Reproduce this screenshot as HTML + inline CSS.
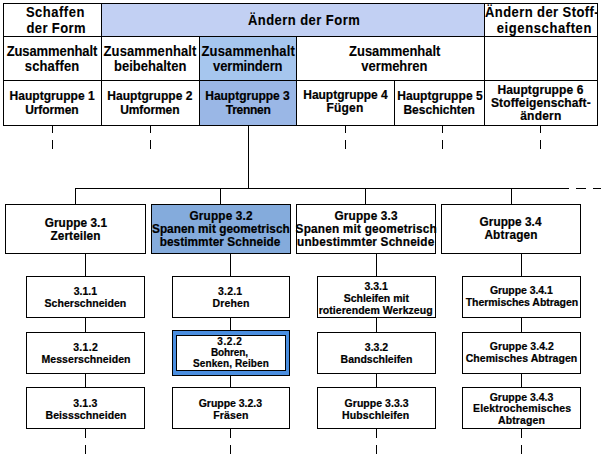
<!DOCTYPE html>
<html><head><meta charset="utf-8"><style>
html,body{margin:0;padding:0;background:#fff;width:601px;height:458px;overflow:hidden}
body{position:relative;font-family:"Liberation Sans",sans-serif;font-weight:bold;color:#000}
body>div{position:absolute}
.t{white-space:nowrap;}
</style></head><body>
<div style="left:102px;top:4px;width:382px;height:32px;background:#c2d0f3"></div>
<div style="left:200px;top:37px;width:96px;height:43px;background:#a6c6ee"></div>
<div style="left:200px;top:81px;width:96px;height:44px;background:#9ab7e6"></div>
<div style="left:3px;top:3px;width:595px;height:1px;background:#000"></div>
<div style="left:3px;top:36px;width:595px;height:1px;background:#000"></div>
<div style="left:3px;top:80px;width:595px;height:1px;background:#000"></div>
<div style="left:3px;top:125px;width:595px;height:1px;background:#000"></div>
<div style="left:3px;top:3px;width:1px;height:123px;background:#000"></div>
<div style="left:101px;top:3px;width:1px;height:123px;background:#000"></div>
<div style="left:484px;top:3px;width:1px;height:123px;background:#000"></div>
<div style="left:597px;top:3px;width:1px;height:123px;background:#000"></div>
<div style="left:199px;top:36px;width:1px;height:90px;background:#000"></div>
<div style="left:296px;top:36px;width:1px;height:90px;background:#000"></div>
<div style="left:394px;top:80px;width:1px;height:46px;background:#000"></div>
<div style="left:52px;top:126px;width:1px;height:7px;background:#000"></div>
<div style="left:52px;top:140px;width:1px;height:9px;background:#000"></div>
<div style="left:150px;top:126px;width:1px;height:7px;background:#000"></div>
<div style="left:150px;top:140px;width:1px;height:9px;background:#000"></div>
<div style="left:345px;top:126px;width:1px;height:7px;background:#000"></div>
<div style="left:345px;top:140px;width:1px;height:9px;background:#000"></div>
<div style="left:442px;top:126px;width:1px;height:7px;background:#000"></div>
<div style="left:442px;top:140px;width:1px;height:9px;background:#000"></div>
<div style="left:540px;top:126px;width:1px;height:7px;background:#000"></div>
<div style="left:540px;top:140px;width:1px;height:9px;background:#000"></div>
<div style="left:248px;top:125px;width:1px;height:64px;background:#000"></div>
<div style="left:75px;top:188px;width:494px;height:1px;background:#000"></div>
<div style="left:576px;top:188px;width:10px;height:1px;background:#000"></div>
<div style="left:593px;top:188px;width:8px;height:1px;background:#000"></div>
<div style="left:75px;top:188px;width:1px;height:17px;background:#000"></div>
<div style="left:220px;top:188px;width:1px;height:17px;background:#000"></div>
<div style="left:365px;top:188px;width:1px;height:17px;background:#000"></div>
<div style="left:511px;top:188px;width:1px;height:17px;background:#000"></div>
<div style="left:5px;top:204px;width:141px;height:1px;background:#000"></div>
<div style="left:5px;top:253px;width:141px;height:1px;background:#000"></div>
<div style="left:5px;top:204px;width:1px;height:50px;background:#000"></div>
<div style="left:145px;top:204px;width:1px;height:50px;background:#000"></div>
<div style="left:151px;top:204px;width:140px;height:50px;background:#84abdc"></div>
<div style="left:151px;top:204px;width:140px;height:1px;background:#000"></div>
<div style="left:151px;top:253px;width:140px;height:1px;background:#000"></div>
<div style="left:151px;top:204px;width:1px;height:50px;background:#000"></div>
<div style="left:290px;top:204px;width:1px;height:50px;background:#000"></div>
<div style="left:296px;top:204px;width:140px;height:1px;background:#000"></div>
<div style="left:296px;top:253px;width:140px;height:1px;background:#000"></div>
<div style="left:296px;top:204px;width:1px;height:50px;background:#000"></div>
<div style="left:435px;top:204px;width:1px;height:50px;background:#000"></div>
<div style="left:441px;top:204px;width:140px;height:1px;background:#000"></div>
<div style="left:441px;top:253px;width:140px;height:1px;background:#000"></div>
<div style="left:441px;top:204px;width:1px;height:50px;background:#000"></div>
<div style="left:580px;top:204px;width:1px;height:50px;background:#000"></div>
<div style="left:85px;top:253px;width:1px;height:24px;background:#000"></div>
<div style="left:230px;top:253px;width:1px;height:24px;background:#000"></div>
<div style="left:376px;top:253px;width:1px;height:24px;background:#000"></div>
<div style="left:521px;top:253px;width:1px;height:24px;background:#000"></div>
<div style="left:26px;top:276px;width:119px;height:1px;background:#000"></div>
<div style="left:26px;top:317px;width:119px;height:1px;background:#000"></div>
<div style="left:26px;top:276px;width:1px;height:42px;background:#000"></div>
<div style="left:144px;top:276px;width:1px;height:42px;background:#000"></div>
<div style="left:26px;top:332px;width:119px;height:1px;background:#000"></div>
<div style="left:26px;top:373px;width:119px;height:1px;background:#000"></div>
<div style="left:26px;top:332px;width:1px;height:42px;background:#000"></div>
<div style="left:144px;top:332px;width:1px;height:42px;background:#000"></div>
<div style="left:26px;top:387px;width:119px;height:1px;background:#000"></div>
<div style="left:26px;top:428px;width:119px;height:1px;background:#000"></div>
<div style="left:26px;top:387px;width:1px;height:42px;background:#000"></div>
<div style="left:144px;top:387px;width:1px;height:42px;background:#000"></div>
<div style="left:85px;top:317px;width:1px;height:16px;background:#000"></div>
<div style="left:85px;top:373px;width:1px;height:15px;background:#000"></div>
<div style="left:85px;top:429px;width:1px;height:9px;background:#000"></div>
<div style="left:85px;top:445px;width:1px;height:9px;background:#000"></div>
<div style="left:172px;top:276px;width:118px;height:1px;background:#000"></div>
<div style="left:172px;top:317px;width:118px;height:1px;background:#000"></div>
<div style="left:172px;top:276px;width:1px;height:42px;background:#000"></div>
<div style="left:289px;top:276px;width:1px;height:42px;background:#000"></div>
<div style="left:172px;top:387px;width:118px;height:1px;background:#000"></div>
<div style="left:172px;top:428px;width:118px;height:1px;background:#000"></div>
<div style="left:172px;top:387px;width:1px;height:42px;background:#000"></div>
<div style="left:289px;top:387px;width:1px;height:42px;background:#000"></div>
<div style="left:230px;top:317px;width:1px;height:16px;background:#000"></div>
<div style="left:230px;top:373px;width:1px;height:15px;background:#000"></div>
<div style="left:230px;top:429px;width:1px;height:9px;background:#000"></div>
<div style="left:230px;top:445px;width:1px;height:9px;background:#000"></div>
<div style="left:317px;top:276px;width:119px;height:1px;background:#000"></div>
<div style="left:317px;top:317px;width:119px;height:1px;background:#000"></div>
<div style="left:317px;top:276px;width:1px;height:42px;background:#000"></div>
<div style="left:435px;top:276px;width:1px;height:42px;background:#000"></div>
<div style="left:317px;top:332px;width:119px;height:1px;background:#000"></div>
<div style="left:317px;top:373px;width:119px;height:1px;background:#000"></div>
<div style="left:317px;top:332px;width:1px;height:42px;background:#000"></div>
<div style="left:435px;top:332px;width:1px;height:42px;background:#000"></div>
<div style="left:317px;top:387px;width:119px;height:1px;background:#000"></div>
<div style="left:317px;top:428px;width:119px;height:1px;background:#000"></div>
<div style="left:317px;top:387px;width:1px;height:42px;background:#000"></div>
<div style="left:435px;top:387px;width:1px;height:42px;background:#000"></div>
<div style="left:376px;top:317px;width:1px;height:16px;background:#000"></div>
<div style="left:376px;top:373px;width:1px;height:15px;background:#000"></div>
<div style="left:376px;top:429px;width:1px;height:9px;background:#000"></div>
<div style="left:376px;top:445px;width:1px;height:9px;background:#000"></div>
<div style="left:462px;top:276px;width:119px;height:1px;background:#000"></div>
<div style="left:462px;top:317px;width:119px;height:1px;background:#000"></div>
<div style="left:462px;top:276px;width:1px;height:42px;background:#000"></div>
<div style="left:580px;top:276px;width:1px;height:42px;background:#000"></div>
<div style="left:462px;top:332px;width:119px;height:1px;background:#000"></div>
<div style="left:462px;top:373px;width:119px;height:1px;background:#000"></div>
<div style="left:462px;top:332px;width:1px;height:42px;background:#000"></div>
<div style="left:580px;top:332px;width:1px;height:42px;background:#000"></div>
<div style="left:462px;top:387px;width:119px;height:1px;background:#000"></div>
<div style="left:462px;top:428px;width:119px;height:1px;background:#000"></div>
<div style="left:462px;top:387px;width:1px;height:42px;background:#000"></div>
<div style="left:580px;top:387px;width:1px;height:42px;background:#000"></div>
<div style="left:521px;top:317px;width:1px;height:16px;background:#000"></div>
<div style="left:521px;top:373px;width:1px;height:15px;background:#000"></div>
<div style="left:521px;top:429px;width:1px;height:9px;background:#000"></div>
<div style="left:521px;top:445px;width:1px;height:9px;background:#000"></div>
<div style="left:172px;top:330px;width:118px;height:46px;background:#4a8ee0"></div>
<div style="left:172px;top:330px;width:118px;height:1px;background:#000"></div>
<div style="left:172px;top:375px;width:118px;height:1px;background:#000"></div>
<div style="left:172px;top:330px;width:1px;height:46px;background:#000"></div>
<div style="left:289px;top:330px;width:1px;height:46px;background:#000"></div>
<div style="left:176px;top:335px;width:110px;height:36px;background:#000"></div>
<div style="left:177px;top:336px;width:108px;height:34px;background:#fff"></div>
<div class="t" style="left:-94.60px;top:5px;width:300px;text-align:center;font-size:13px;line-height:15px;letter-spacing:0.500px;transform:scaleY(1.1);transform-origin:0 12px;-webkit-text-stroke:0.1px #000">Schaffen</div>
<div class="t" style="left:-93.80px;top:21px;width:300px;text-align:center;font-size:13px;line-height:15px;letter-spacing:0.400px;transform:scaleY(1.1);transform-origin:0 12px;-webkit-text-stroke:0.1px #000">der Form</div>
<div class="t" style="left:154.08px;top:13px;width:300px;text-align:center;font-size:13px;line-height:15px;letter-spacing:0.450px;transform:scaleY(1.1);transform-origin:0 12px;-webkit-text-stroke:0.1px #000">&Auml;ndern der Form</div>
<div class="t" style="left:485px;top:5px;width:112px;overflow:hidden;font-size:13px;line-height:15px;letter-spacing:0.420px;transform:scaleY(1.1);transform-origin:0 12px;-webkit-text-stroke:0.1px #000">&Auml;ndern der Stoff-</div>
<div class="t" style="left:394.39px;top:21px;width:300px;text-align:center;font-size:13px;line-height:15px;letter-spacing:0.602px;transform:scaleY(1.1);transform-origin:0 12px;-webkit-text-stroke:0.1px #000">eigenschaften</div>
<div class="t" style="left:-98.05px;top:44px;width:300px;text-align:center;font-size:13px;line-height:15px;letter-spacing:-0.100px;transform:scaleY(1.1);transform-origin:0 12px;-webkit-text-stroke:0.1px #000">Zusammenhalt</div>
<div class="t" style="left:-97.94px;top:59px;width:300px;text-align:center;font-size:13px;line-height:15px;letter-spacing:0.130px;transform:scaleY(1.1);transform-origin:0 12px;-webkit-text-stroke:0.1px #000">schaffen</div>
<div class="t" style="left:-0.02px;top:44px;width:300px;text-align:center;font-size:13px;line-height:15px;letter-spacing:0.091px;transform:scaleY(1.1);transform-origin:0 12px;-webkit-text-stroke:0.1px #000">Zusammenhalt</div>
<div class="t" style="left:0.15px;top:59px;width:300px;text-align:center;font-size:13px;line-height:15px;letter-spacing:0.018px;transform:scaleY(1.1);transform-origin:0 12px;-webkit-text-stroke:0.1px #000">beibehalten</div>
<div class="t" style="left:98.22px;top:44px;width:300px;text-align:center;font-size:13px;line-height:15px;letter-spacing:0.142px;transform:scaleY(1.1);transform-origin:0 12px;-webkit-text-stroke:0.1px #000">Zusammenhalt</div>
<div class="t" style="left:97.73px;top:59px;width:300px;text-align:center;font-size:13px;line-height:15px;letter-spacing:-0.150px;transform:scaleY(1.1);transform-origin:0 12px;-webkit-text-stroke:0.1px #000">vermindern</div>
<div class="t" style="left:244.70px;top:44px;width:300px;text-align:center;font-size:13px;line-height:15px;letter-spacing:-0.049px;transform:scaleY(1.1);transform-origin:0 12px;-webkit-text-stroke:0.1px #000">Zusammenhalt</div>
<div class="t" style="left:244.34px;top:59px;width:300px;text-align:center;font-size:13px;line-height:15px;letter-spacing:-0.063px;transform:scaleY(1.1);transform-origin:0 12px;-webkit-text-stroke:0.1px #000">vermehren</div>
<div class="t" style="left:-97.87px;top:89px;width:300px;text-align:center;font-size:12px;line-height:14px;letter-spacing:0.032px;-webkit-text-stroke:0.2px #000">Hauptgruppe 1</div>
<div class="t" style="left:-98.13px;top:103px;width:300px;text-align:center;font-size:12px;line-height:14px;letter-spacing:-0.070px;-webkit-text-stroke:0.2px #000">Urformen</div>
<div class="t" style="left:-0.12px;top:89px;width:300px;text-align:center;font-size:12px;line-height:14px;letter-spacing:0.043px;-webkit-text-stroke:0.2px #000">Hauptgruppe 2</div>
<div class="t" style="left:-0.19px;top:103px;width:300px;text-align:center;font-size:12px;line-height:14px;letter-spacing:-0.110px;-webkit-text-stroke:0.2px #000">Umformen</div>
<div class="t" style="left:97.50px;top:89px;width:300px;text-align:center;font-size:12px;line-height:14px;letter-spacing:-0.015px;-webkit-text-stroke:0.2px #000">Hauptgruppe 3</div>
<div class="t" style="left:98.13px;top:103px;width:300px;text-align:center;font-size:12px;line-height:14px;letter-spacing:-0.290px;-webkit-text-stroke:0.2px #000">Trennen</div>
<div class="t" style="left:195.50px;top:88px;width:300px;text-align:center;font-size:12px;line-height:14px;letter-spacing:-0.015px;-webkit-text-stroke:0.2px #000">Hauptgruppe 4</div>
<div class="t" style="left:195.03px;top:101px;width:300px;text-align:center;font-size:12px;line-height:14px;letter-spacing:0.165px;-webkit-text-stroke:0.2px #000">F&uuml;gen</div>
<div class="t" style="left:290.03px;top:89px;width:300px;text-align:center;font-size:12px;line-height:14px;letter-spacing:0.067px;-webkit-text-stroke:0.2px #000">Hauptgruppe 5</div>
<div class="t" style="left:289.17px;top:103px;width:300px;text-align:center;font-size:12px;line-height:14px;letter-spacing:0.018px;-webkit-text-stroke:0.2px #000">Beschichten</div>
<div class="t" style="left:390.44px;top:83px;width:300px;text-align:center;font-size:12px;line-height:14px;letter-spacing:0.102px;-webkit-text-stroke:0.2px #000">Hauptgruppe 6</div>
<div class="t" style="left:390.91px;top:96px;width:300px;text-align:center;font-size:12px;line-height:14px;letter-spacing:0.105px;-webkit-text-stroke:0.2px #000">Stoffeigenschaft-</div>
<div class="t" style="left:390.89px;top:109px;width:300px;text-align:center;font-size:12px;line-height:14px;letter-spacing:0.224px;-webkit-text-stroke:0.2px #000">&auml;ndern</div>
<div class="t" style="left:-74.11px;top:216px;width:300px;text-align:center;font-size:11.8px;line-height:14px;letter-spacing:0.078px;transform:scaleY(1.1);transform-origin:0 11px;-webkit-text-stroke:0.2px #000">Gruppe 3.1</div>
<div class="t" style="left:-74.51px;top:229px;width:300px;text-align:center;font-size:11.8px;line-height:14px;letter-spacing:0.105px;transform:scaleY(1.1);transform-origin:0 11px;-webkit-text-stroke:0.2px #000">Zerteilen</div>
<div class="t" style="left:71.08px;top:209px;width:300px;text-align:center;font-size:11.8px;line-height:14px;letter-spacing:0.156px;transform:scaleY(1.1);transform-origin:0 11px;-webkit-text-stroke:0.2px #000">Gruppe 3.2</div>
<div class="t" style="left:70.87px;top:222px;width:300px;text-align:center;font-size:11.8px;line-height:14px;letter-spacing:0.033px;transform:scaleY(1.1);transform-origin:0 11px;-webkit-text-stroke:0.2px #000">Spanen mit geometrisch</div>
<div class="t" style="left:70.04px;top:235px;width:300px;text-align:center;font-size:11.8px;line-height:14px;letter-spacing:0.078px;transform:scaleY(1.1);transform-origin:0 11px;-webkit-text-stroke:0.2px #000">bestimmter Schneide</div>
<div class="t" style="left:216.08px;top:209px;width:300px;text-align:center;font-size:11.8px;line-height:14px;letter-spacing:0.156px;transform:scaleY(1.1);transform-origin:0 11px;-webkit-text-stroke:0.2px #000">Gruppe 3.3</div>
<div class="t" style="left:216.30px;top:222px;width:300px;text-align:center;font-size:11.8px;line-height:14px;letter-spacing:0.200px;transform:scaleY(1.1);transform-origin:0 11px;-webkit-text-stroke:0.2px #000">Spanen mit geometrisch</div>
<div class="t" style="left:215.74px;top:235px;width:300px;text-align:center;font-size:11.8px;line-height:14px;letter-spacing:0.175px;transform:scaleY(1.1);transform-origin:0 11px;-webkit-text-stroke:0.2px #000">unbestimmter Schneide</div>
<div class="t" style="left:360.54px;top:215px;width:300px;text-align:center;font-size:11.8px;line-height:14px;letter-spacing:0.031px;transform:scaleY(1.1);transform-origin:0 11px;-webkit-text-stroke:0.2px #000">Gruppe 3.4</div>
<div class="t" style="left:361.10px;top:228px;width:300px;text-align:center;font-size:11.8px;line-height:14px;letter-spacing:0.200px;transform:scaleY(1.1);transform-origin:0 11px;-webkit-text-stroke:0.2px #000">Abtragen</div>
<div class="t" style="left:-64.56px;top:285px;width:300px;text-align:center;font-size:10.5px;line-height:12px;letter-spacing:0.000px;-webkit-text-stroke:0.2px #000">3.1.1</div>
<div class="t" style="left:-64.60px;top:297px;width:300px;text-align:center;font-size:10.5px;line-height:12px;letter-spacing:0.054px;-webkit-text-stroke:0.2px #000">Scherschneiden</div>
<div class="t" style="left:-64.33px;top:341px;width:300px;text-align:center;font-size:10.5px;line-height:12px;letter-spacing:0.315px;-webkit-text-stroke:0.2px #000">3.1.2</div>
<div class="t" style="left:-63.97px;top:353px;width:300px;text-align:center;font-size:10.5px;line-height:12px;letter-spacing:0.060px;-webkit-text-stroke:0.2px #000">Messerschneiden</div>
<div class="t" style="left:-64.62px;top:397px;width:300px;text-align:center;font-size:10.5px;line-height:12px;letter-spacing:0.175px;-webkit-text-stroke:0.2px #000">3.1.3</div>
<div class="t" style="left:-63.97px;top:409px;width:300px;text-align:center;font-size:10.5px;line-height:12px;letter-spacing:0.075px;-webkit-text-stroke:0.2px #000">Beissschneiden</div>
<div class="t" style="left:80.20px;top:285px;width:300px;text-align:center;font-size:10.5px;line-height:12px;letter-spacing:0.175px;-webkit-text-stroke:0.2px #000">3.2.1</div>
<div class="t" style="left:81.02px;top:297px;width:300px;text-align:center;font-size:10.5px;line-height:12px;letter-spacing:0.140px;-webkit-text-stroke:0.2px #000">Drehen</div>
<div class="t" style="left:79.89px;top:336px;width:300px;text-align:center;font-size:10px;line-height:11px;letter-spacing:0.595px;-webkit-text-stroke:0.2px #000">3.2.2</div>
<div class="t" style="left:79.47px;top:347px;width:300px;text-align:center;font-size:10px;line-height:11px;letter-spacing:-0.093px;-webkit-text-stroke:0.2px #000">Bohren,</div>
<div class="t" style="left:80.96px;top:358px;width:300px;text-align:center;font-size:10px;line-height:11px;letter-spacing:0.097px;-webkit-text-stroke:0.2px #000">Senken, Reiben</div>
<div class="t" style="left:80.35px;top:397px;width:300px;text-align:center;font-size:10.5px;line-height:12px;letter-spacing:-0.025px;-webkit-text-stroke:0.2px #000">Gruppe 3.2.3</div>
<div class="t" style="left:80.92px;top:409px;width:300px;text-align:center;font-size:10.5px;line-height:12px;letter-spacing:0.140px;-webkit-text-stroke:0.2px #000">Fr&auml;sen</div>
<div class="t" style="left:226.15px;top:280px;width:300px;text-align:center;font-size:10.5px;line-height:12px;letter-spacing:0.035px;-webkit-text-stroke:0.2px #000">3.3.1</div>
<div class="t" style="left:226.32px;top:292px;width:300px;text-align:center;font-size:10.5px;line-height:12px;letter-spacing:-0.012px;-webkit-text-stroke:0.2px #000">Schleifen mit</div>
<div class="t" style="left:225.66px;top:304px;width:300px;text-align:center;font-size:10.5px;line-height:12px;letter-spacing:0.052px;-webkit-text-stroke:0.2px #000">rotierendem Werkzeug</div>
<div class="t" style="left:226.50px;top:341px;width:300px;text-align:center;font-size:10.5px;line-height:12px;letter-spacing:0.000px;-webkit-text-stroke:0.2px #000">3.3.2</div>
<div class="t" style="left:226.50px;top:353px;width:300px;text-align:center;font-size:10.5px;line-height:12px;letter-spacing:0.000px;-webkit-text-stroke:0.2px #000">Bandschleifen</div>
<div class="t" style="left:226.63px;top:397px;width:300px;text-align:center;font-size:10.5px;line-height:12px;letter-spacing:0.038px;-webkit-text-stroke:0.2px #000">Gruppe 3.3.3</div>
<div class="t" style="left:225.69px;top:409px;width:300px;text-align:center;font-size:10.5px;line-height:12px;letter-spacing:0.115px;-webkit-text-stroke:0.2px #000">Hubschleifen</div>
<div class="t" style="left:371.32px;top:284px;width:300px;text-align:center;font-size:10.5px;line-height:12px;letter-spacing:-0.064px;-webkit-text-stroke:0.2px #000">Gruppe 3.4.1</div>
<div class="t" style="left:371.88px;top:296px;width:300px;text-align:center;font-size:10.5px;line-height:12px;letter-spacing:-0.052px;-webkit-text-stroke:0.2px #000">Thermisches Abtragen</div>
<div class="t" style="left:371.83px;top:340px;width:300px;text-align:center;font-size:10.5px;line-height:12px;letter-spacing:0.038px;-webkit-text-stroke:0.2px #000">Gruppe 3.4.2</div>
<div class="t" style="left:371.49px;top:352px;width:300px;text-align:center;font-size:10.5px;line-height:12px;letter-spacing:0.062px;-webkit-text-stroke:0.2px #000">Chemisches Abtragen</div>
<div class="t" style="left:371.50px;top:391px;width:300px;text-align:center;font-size:10.5px;line-height:12px;letter-spacing:0.000px;-webkit-text-stroke:0.2px #000">Gruppe 3.4.3</div>
<div class="t" style="left:372.20px;top:402px;width:300px;text-align:center;font-size:10.5px;line-height:12px;letter-spacing:0.149px;-webkit-text-stroke:0.2px #000">Elektrochemisches</div>
<div class="t" style="left:371.52px;top:414px;width:300px;text-align:center;font-size:10.5px;line-height:12px;letter-spacing:0.120px;-webkit-text-stroke:0.2px #000">Abtragen</div>
</body></html>
